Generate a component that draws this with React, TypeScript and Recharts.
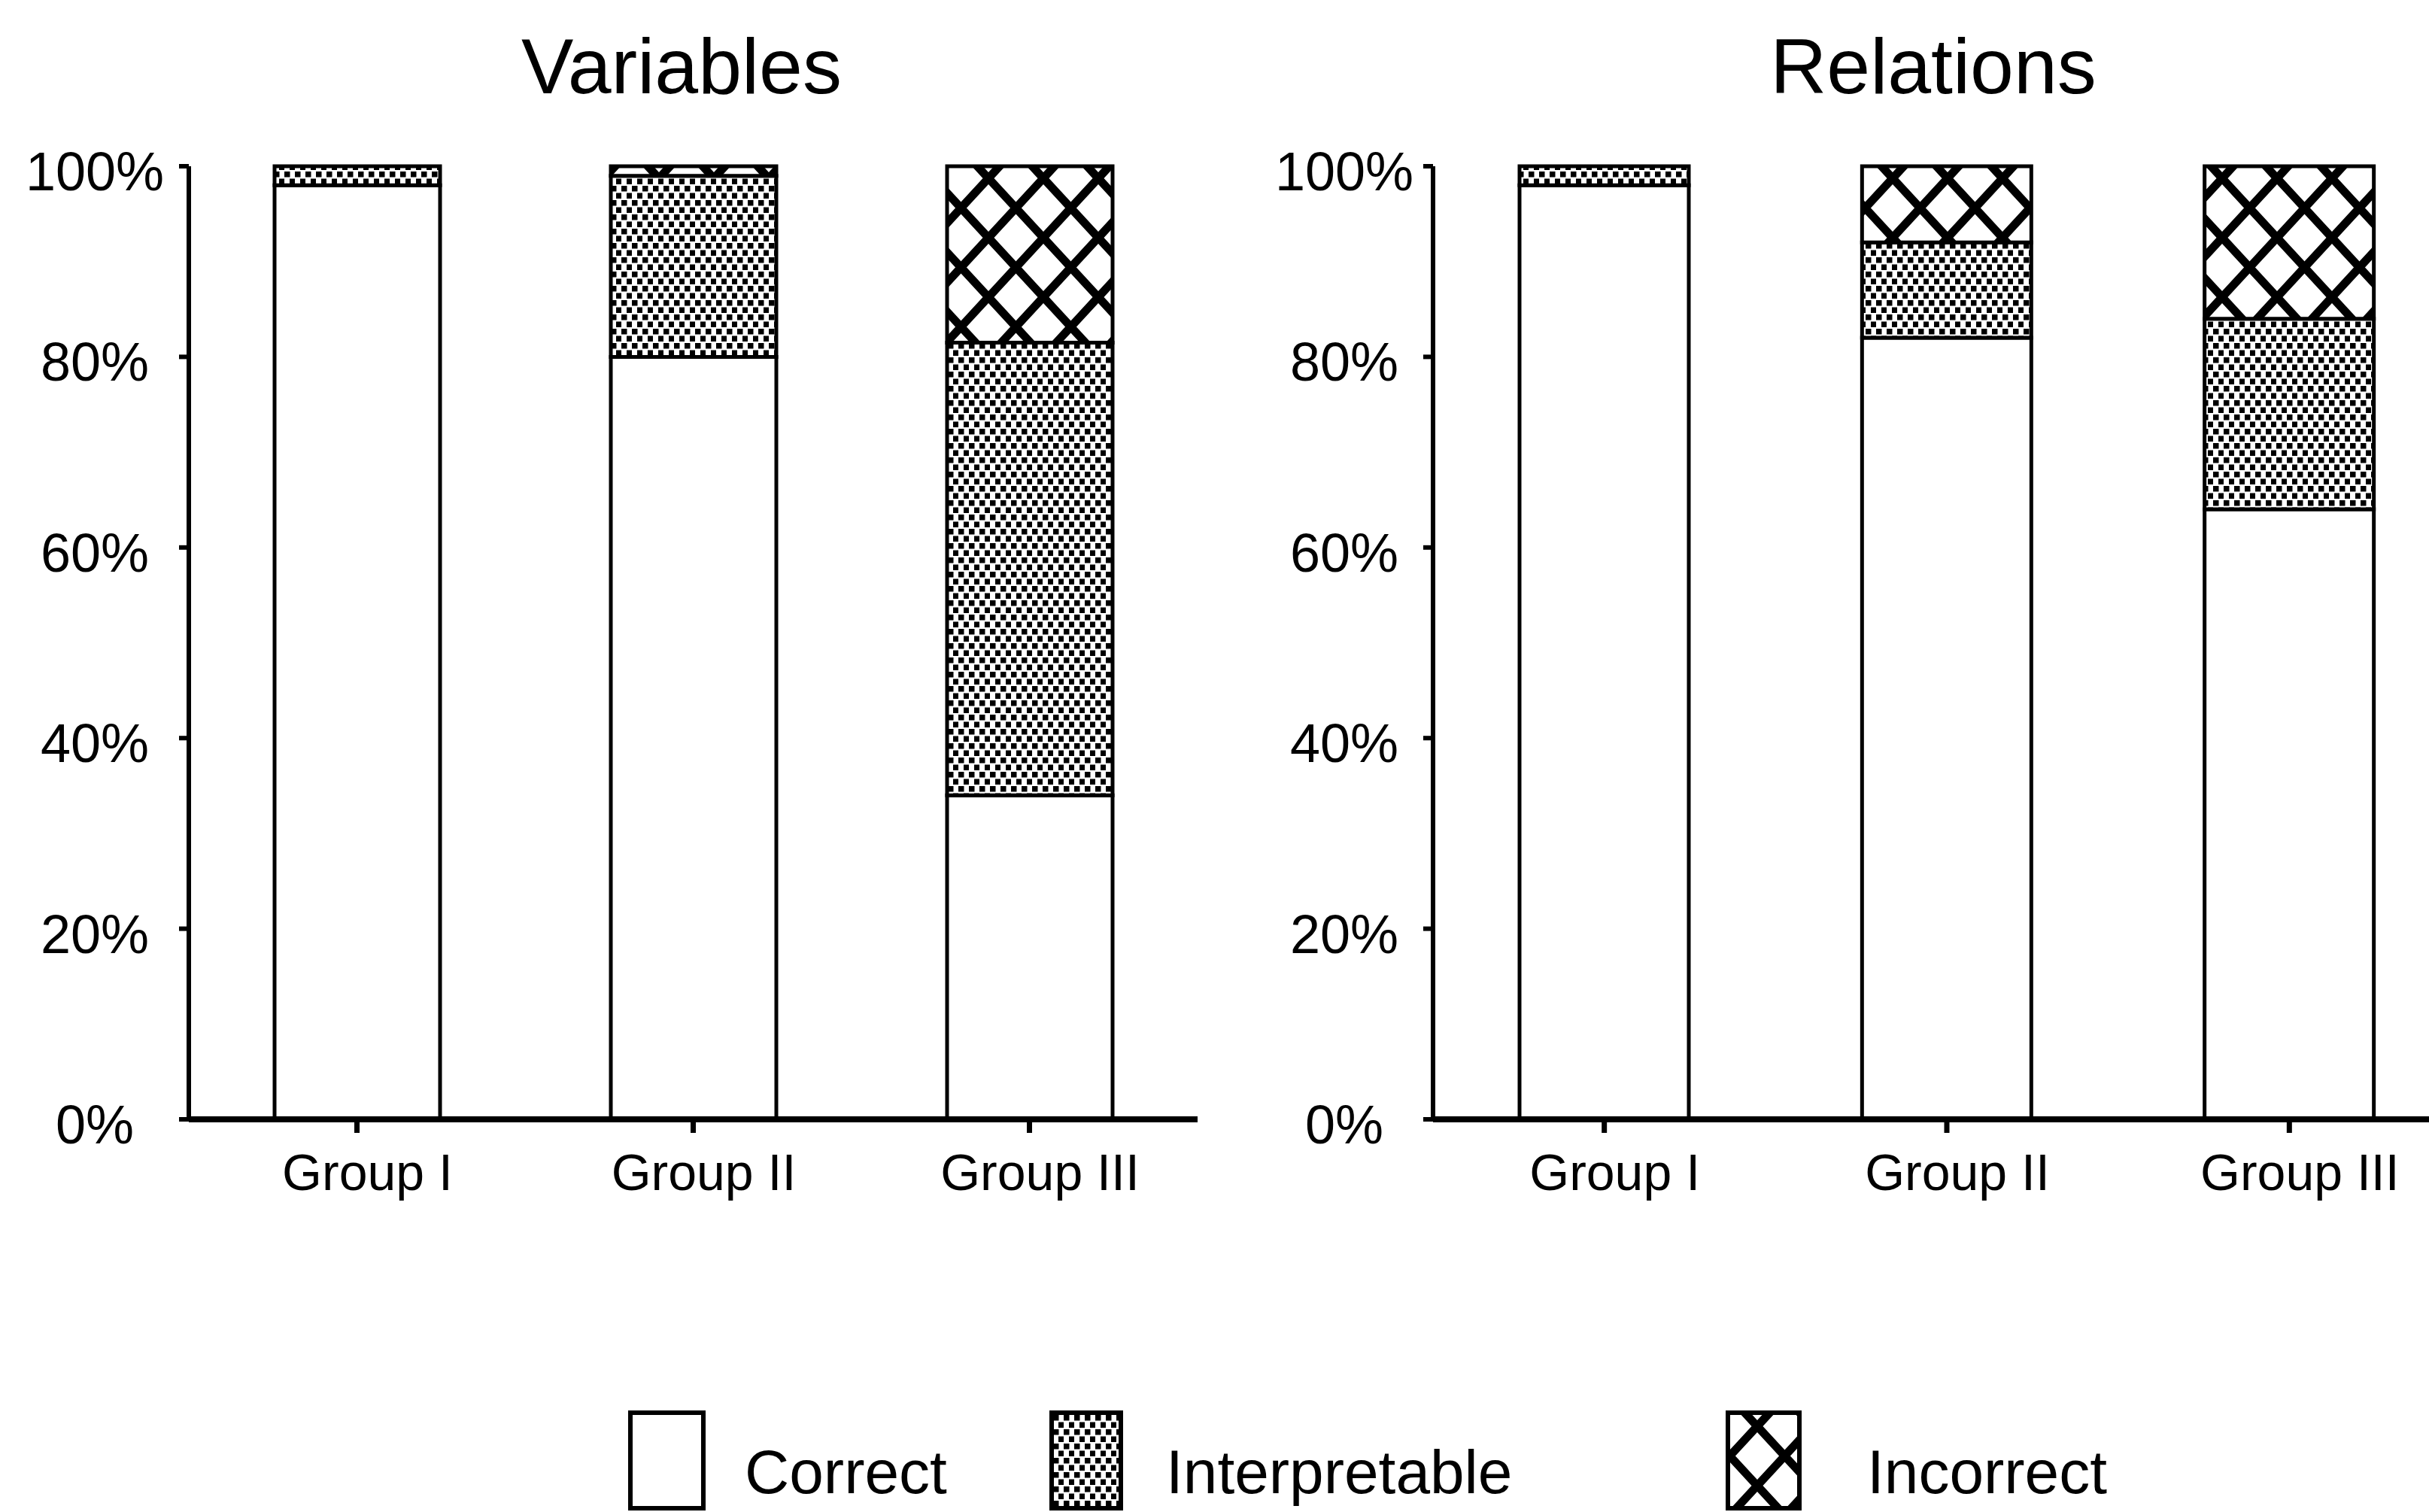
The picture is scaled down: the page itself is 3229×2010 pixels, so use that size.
import React from "react"
import { BarChart, Bar, XAxis, YAxis } from "recharts"

const categories = ["Group I", "Group II", "Group III"]
const variablesCorrect = [98, 80, 34]
const variablesInterpretable = [2, 19, 47.5]
const variablesIncorrect = [0, 1, 18.5]
const relationsCorrect = [98, 82, 64]
const relationsInterpretable = [2, 10, 20]
const relationsIncorrect = [0, 8, 16]
const percentTicks = [0, 20, 40, 60, 80, 100]
const titles = ["Variables", "Relations"]
const legendLabels = ["Correct", "Interpretable", "Incorrect"]

const FONT = "'Liberation Sans', Arial, Helvetica, sans-serif"
const INK = "#000"

type Row = { name: string; correct: number; interpretable: number; incorrect: number }

function buildRows(correct: number[], interpretable: number[], incorrect: number[]): Row[] {
  return categories.map((name, i) => ({
    name,
    correct: correct[i],
    interpretable: interpretable[i],
    incorrect: incorrect[i],
  }))
}

const variablesRows = buildRows(variablesCorrect, variablesInterpretable, variablesIncorrect)
const relationsRows = buildRows(relationsCorrect, relationsInterpretable, relationsIncorrect)

// tile of the diamond lattice used for "Incorrect"
const LW = 73
const LH = 79

function Patterns() {
  const lines: string[] = []
  for (const dx of [-LW, 0, LW]) {
    lines.push(`M${dx - LW * 0.15} ${-LH * 0.15} L${dx + LW * 1.15} ${LH * 1.15}`)
    lines.push(`M${dx + LW * 1.15} ${-LH * 0.15} L${dx - LW * 0.15} ${LH * 1.15}`)
  }
  return (
    <defs>
      <pattern id="stipple" patternUnits="userSpaceOnUse" width={14} height={19}>
        <rect width={14} height={19} fill="#fff" />
        <rect x={0} y={0} width={7.5} height={7.5} fill={INK} />
        <rect x={7} y={9.5} width={7.5} height={7.5} fill={INK} />
      </pattern>
      <pattern id="lattice" patternUnits="userSpaceOnUse" width={LW} height={LH}>
        <rect width={LW} height={LH} fill="#fff" />
        <path d={lines.join(" ")} stroke={INK} strokeWidth={11} fill="none" />
      </pattern>
    </defs>
  )
}

function Panel({
  data,
  left,
  axisWidth,
  plotWidth,
  barSize,
  labelOffset,
}: {
  data: Row[]
  left: number
  axisWidth: number
  plotWidth: number
  barSize: number
  labelOffset: number
}) {
  const width = axisWidth + plotWidth + 10
  return (
    <div style={{ position: "absolute", left, top: 0 }}>
      <BarChart
        width={width}
        height={1640}
        data={data}
        margin={{ top: 221, right: 10, bottom: 22, left: 0 }}
        barCategoryGap={0}
      >
        <XAxis
          dataKey="name"
          height={130}
          interval={0}
          axisLine={{ stroke: INK, strokeWidth: 8 }}
          tickLine={{ stroke: INK, strokeWidth: 7 }}
          tickSize={18}
          tick={(p: any) => (
            <text
              x={p.x + 14}
              y={p.y}
              dy={74}
              textAnchor="middle"
              fontSize={68}
              fontFamily={FONT}
              fill={INK}
            >
              {p.payload.value}
            </text>
          )}
        />
        <YAxis
          width={axisWidth}
          domain={[0, 100]}
          ticks={percentTicks}
          interval={0}
          axisLine={{ stroke: INK, strokeWidth: 6 }}
          tickLine={{ stroke: INK, strokeWidth: 6 }}
          tickSize={13}
          tick={(p: any) => (
            <text
              x={p.x - labelOffset}
              y={p.y}
              dy={32}
              textAnchor="middle"
              fontSize={72}
              fontFamily={FONT}
              fill={INK}
            >
              {p.payload.value}%
            </text>
          )}
        />
        <Bar dataKey="correct" stackId="s" fill="#fff" stroke={INK} strokeWidth={5} barSize={barSize} isAnimationActive={false} />
        <Bar dataKey="interpretable" stackId="s" fill="url(#stipple)" stroke={INK} strokeWidth={5} barSize={barSize} isAnimationActive={false} />
        <Bar dataKey="incorrect" stackId="s" fill="url(#lattice)" stroke={INK} strokeWidth={5} barSize={barSize} isAnimationActive={false} />
      </BarChart>
    </div>
  )
}

export default function App() {
  const legendFills = ["#fff", "url(#stipple)", "url(#lattice)"]
  const legendBoxes = [
    { x: 838, w: 97, tx: 990 },
    { x: 1398, w: 92, tx: 1550 },
    { x: 2297, w: 95, tx: 2482 },
  ]
  return (
    <div
      style={{
        position: "fixed",
        left: 0,
        top: 0,
        width: 3229,
        height: 2010,
        overflow: "hidden",
        background: "#fff",
      }}
    >
      <svg width={3229} height={2010} style={{ position: "absolute", left: 0, top: 0 }}>
        <Patterns />
        <text x={906} y={124} textAnchor="middle" fontSize={104} fontFamily={FONT} fill={INK}>
          {titles[0]}
        </text>
        <text x={2570} y={124} textAnchor="middle" fontSize={104} fontFamily={FONT} fill={INK}>
          {titles[1]}
        </text>
        {legendLabels.map((label, i) => (
          <g key={label}>
            <rect
              x={legendBoxes[i].x}
              y={1878}
              width={legendBoxes[i].w}
              height={127}
              fill={legendFills[i]}
              stroke={INK}
              strokeWidth={6}
            />
            <text x={legendBoxes[i].tx} y={1985} fontSize={82} fontFamily={FONT} fill={INK}>
              {label}
            </text>
          </g>
        ))}
      </svg>
      <Panel data={variablesRows} left={0} axisWidth={251} plotWidth={1341} barSize={220} labelOffset={110} />
      <Panel data={relationsRows} left={1640} axisWidth={265} plotWidth={1366} barSize={225} labelOffset={103} />
    </div>
  )
}
